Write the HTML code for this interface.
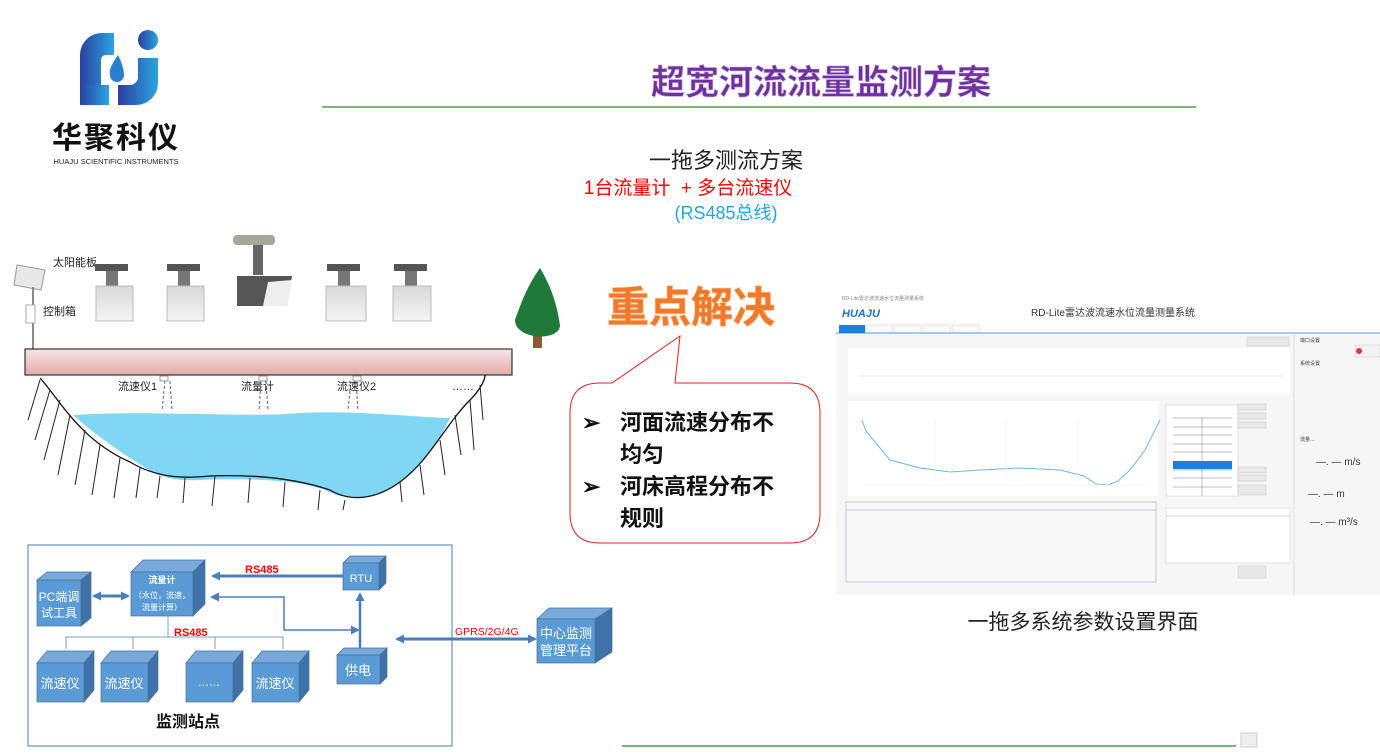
<!DOCTYPE html>
<html><head><meta charset="utf-8">
<style>
html,body{margin:0;padding:0;background:#fff;}
body{width:1380px;height:751px;overflow:hidden;position:relative;font-family:"Liberation Sans","Noto Sans CJK SC",sans-serif;}
svg text{font-family:"Liberation Sans","Noto Sans CJK SC",sans-serif;}
</style></head><body>
<svg width="1380" height="751" viewBox="0 0 1380 751" xmlns="http://www.w3.org/2000/svg">
<defs>
<linearGradient id="lg" x1="0" y1="0" x2="1" y2="0"><stop offset="0" stop-color="#2b3fa0"/><stop offset="1" stop-color="#2aa5e0"/></linearGradient>
<linearGradient id="br" x1="0" y1="0" x2="0" y2="1"><stop offset="0" stop-color="#f6e4e4"/><stop offset="1" stop-color="#e2aaaa"/></linearGradient>
<linearGradient id="dev" x1="0" y1="0" x2="0" y2="1"><stop offset="0" stop-color="#d8d8d8"/><stop offset="1" stop-color="#f4f4f4"/></linearGradient>
<marker id="ah" markerUnits="userSpaceOnUse" markerWidth="9" markerHeight="9" refX="7" refY="4.5" orient="auto-start-reverse"><path d="M0,0 L9,4.5 L0,9 z" fill="#4a7ebb"/></marker>
</defs>

<!-- logo -->
<path d="M80,105 V55 a22,22 0 0 1 22,-22 h12 v22 h-8 a5,5 0 0 0 -5,5 v25 h8 v20 z" fill="url(#lg)"/>
<rect x="80" y="85" width="29" height="20" fill="url(#lg)"/>
<path d="M138,58 h20 v25 a22,22 0 0 1 -22,22 h-18 v-20 h12 a8,8 0 0 0 8,-8 z" fill="url(#lg)"/>
<circle cx="148" cy="40" r="10" fill="url(#lg)"/>
<path d="M118,55 q-10,14 -8,20 a7,7 0 0 0 14,0 q0,-8 -6,-20z" fill="#2a7fd0"/>
<text x="116" y="148" font-size="30" font-weight="bold" text-anchor="middle" fill="#111" letter-spacing="2">华聚科仪</text>
<text x="116" y="164" font-size="7.5" text-anchor="middle" fill="#222">HUAJU SCIENTIFIC INSTRUMENTS</text>

<!-- title -->
<text x="821" y="94" font-size="34" font-weight="bold" text-anchor="middle" fill="#7030a0" stroke="#c9b3e0" stroke-width="0.6">超宽河流流量监测方案</text>
<line x1="322" y1="107" x2="1196" y2="107" stroke="#2e8b2e" stroke-width="1.2"/>
<line x1="622" y1="746" x2="1236" y2="746" stroke="#2e8b2e" stroke-width="1.2"/>
<rect x="1241" y="733" width="16" height="14" fill="#eee" stroke="#ccc"/>

<text x="726" y="168" font-size="22" text-anchor="middle" fill="#222">一拖多测流方案</text>
<text x="688" y="194" font-size="19" text-anchor="middle" fill="#ff0000" xml:space="preserve">1台流量计  + 多台流速仪</text>
<text x="726" y="219" font-size="18" text-anchor="middle" fill="#1fa6e0">(RS485总线)</text>

<!-- river scene -->
<text x="53" y="266" font-size="11" fill="#222">太阳能板</text>
<text x="43" y="315" font-size="11" fill="#222">控制箱</text>
<polygon points="17,265 45,270 41,290 14,285" fill="#e8e8e8" stroke="#999"/>
<line x1="33" y1="287" x2="33" y2="350" stroke="#888" stroke-width="2"/>
<rect x="26" y="305" width="9" height="18" fill="#fff" stroke="#aaa"/>
<g>
 <rect x="95" y="264" width="33" height="7" fill="#555"/><rect x="106" y="271" width="12" height="15" fill="#777"/>
 <rect x="96" y="286" width="37" height="35" fill="url(#dev)" stroke="#bbb"/>
 <rect x="167" y="264" width="33" height="7" fill="#555"/><rect x="178" y="271" width="12" height="15" fill="#777"/>
 <rect x="167" y="286" width="37" height="35" fill="url(#dev)" stroke="#bbb"/>
 <rect x="327" y="264" width="33" height="7" fill="#555"/><rect x="338" y="271" width="12" height="15" fill="#777"/>
 <rect x="326" y="286" width="40" height="35" fill="url(#dev)" stroke="#bbb"/>
 <rect x="394" y="264" width="33" height="7" fill="#555"/><rect x="405" y="271" width="12" height="15" fill="#777"/>
 <rect x="393" y="286" width="38" height="35" fill="url(#dev)" stroke="#bbb"/>
 <rect x="233" y="235" width="42" height="10" rx="4" fill="#a8a89a"/>
 <rect x="253" y="245" width="10" height="30" fill="#666"/>
 <polygon points="237,276 292,276 287,306 237,306" fill="#555"/>
 <polygon points="268,282 292,280 287,306 263,306" fill="#eee"/>
</g>
<rect x="533" y="330" width="9" height="18" fill="#8a5a30"/>
<path d="M540,268 C528,285 522,300 515,320 C515,340 560,342 560,325 C556,300 550,285 540,268z" fill="#1f7a3a"/>
<rect x="25" y="349" width="487" height="26" fill="url(#br)" stroke="#333" stroke-width="1.2"/>
<path d="M73,415 C150,410 250,418 300,413 C360,410 420,418 450,418 C440,440 420,470 400,482 C380,500 345,502 325,490 C300,480 250,478 200,480 C160,482 150,470 130,458 C110,445 90,430 73,415z" fill="#7fd6f5"/>
<path d="M40,378 C60,400 80,440 130,462 C160,480 190,478 210,476 C260,474 300,480 330,490 C350,502 375,500 400,482 C430,460 445,425 470,400 C480,390 485,380 485,375" fill="none" stroke="#111" stroke-width="1.3"/>
<g stroke="#222" stroke-width="1">
<path d="M40,380 l-12,40 M50,390 l-15,50 M60,400 l-16,60 M70,415 l-12,60 M85,430 l-10,55 M100,445 l-8,50 M120,458 l-6,40 M140,468 l-4,30 M160,476 l-3,22 M185,478 l-2,25 M215,476 l-3,30 M250,478 l-2,25 M285,482 l-2,25 M320,490 l-2,20 M345,500 l-2,10 M400,482 l2,20 M420,465 l4,30 M440,440 l5,35 M455,415 l6,40 M470,400 l4,50 M480,385 l3,35"/>
</g>
<g font-size="11" fill="#222"><text x="118" y="390">流速仪1</text><text x="241" y="390">流量计</text><text x="337" y="390">流速仪2</text><text x="452" y="390">……</text></g>
<g stroke="#666" stroke-dasharray="3,2"><path d="M165,381 l-3,30 M170,381 l2,30 M261,381 l-2,30 M266,381 l2,30 M351,381 l-3,30 M356,381 l2,30"/></g>
<g fill="#fff" stroke="#999"><rect x="160" y="376" width="8" height="5"/><rect x="259" y="376" width="8" height="5"/><rect x="353" y="376" width="8" height="5"/></g>

<!-- 重点解决 -->
<text x="691" y="322" font-size="42" font-weight="bold" text-anchor="middle" fill="#f07a2a" stroke="#fbd3b2" stroke-width="1.5" paint-order="stroke">重点解决</text>
<path d="M600,383 L612,383 L680,336 L675,383 L790,383 Q820,383 820,413 L820,513 Q820,543 790,543 L600,543 Q570,543 570,513 L570,413 Q570,383 600,383z" fill="#fff" stroke="#e02020" stroke-width="1"/>
<g font-size="22" fill="#111" font-weight="bold"><text x="582" y="430">➢</text><text x="620" y="430">河面流速分布不</text><text x="620" y="462">均匀</text><text x="582" y="494">➢</text><text x="620" y="494">河床高程分布不</text><text x="620" y="526">规则</text></g>

<!-- software screenshot -->
<rect x="836" y="293" width="544" height="302" fill="#f6f6f6"/>
<rect x="836" y="293" width="544" height="40" fill="#fff"/>
<text x="842" y="300" font-size="5" fill="#888">RD-Lite雷达波流速水位流量测量系统</text>
<text x="842" y="317" font-size="11" font-weight="bold" fill="#1e6fc8" font-style="italic">HUAJU</text>
<text x="1113" y="316" font-size="10" text-anchor="middle" fill="#333">RD-Lite雷达波流速水位流量测量系统</text>
<rect x="839" y="325" width="26" height="8" fill="#1a7fe0"/>
<g fill="#fafafa" stroke="#ccc" stroke-width="0.5"><rect x="866" y="325" width="26" height="8"/><rect x="894" y="325" width="27" height="8"/><rect x="923" y="325" width="27" height="8"/><rect x="952" y="325" width="27" height="8"/></g>
<line x1="836" y1="333" x2="1380" y2="333" stroke="#1a7fe0" stroke-width="0.8"/>
<rect x="848" y="348" width="442" height="46" fill="#fff"/>
<line x1="860" y1="376" x2="1282" y2="376" stroke="#ccc" stroke-width="0.5"/>
<rect x="848" y="401" width="310" height="95" fill="#fff"/>
<polyline points="862,420 866,431 890,460 920,468 950,472 980,470 1020,468 1060,470 1084,476 1096,484 1108,485 1118,481 1130,470 1145,450 1160,420" fill="none" stroke="#6ab8ee" stroke-width="1"/>
<g stroke="#eee" stroke-width="0.5"><line x1="862" y1="485" x2="1150" y2="485"/><line x1="935" y1="420" x2="935" y2="485"/><line x1="1006" y1="420" x2="1006" y2="485"/><line x1="1078" y1="420" x2="1078" y2="485"/></g>
<rect x="1166" y="405" width="72" height="91" fill="#fff" stroke="#ccc" stroke-width="0.5"/>
<g stroke="#555" stroke-width="0.4"><line x1="1173" y1="418" x2="1232" y2="418"/><line x1="1173" y1="427" x2="1232" y2="427"/><line x1="1173" y1="435" x2="1232" y2="435"/><line x1="1173" y1="444" x2="1232" y2="444"/><line x1="1173" y1="452" x2="1232" y2="452"/><line x1="1173" y1="470" x2="1232" y2="470"/><line x1="1173" y1="478" x2="1232" y2="478"/><line x1="1173" y1="487" x2="1232" y2="487"/><line x1="1202" y1="418" x2="1202" y2="496"/></g>
<rect x="1173" y="461" width="59" height="8" fill="#1a7fe0"/>
<g fill="#e8e8e8" stroke="#bbb" stroke-width="0.4"><rect x="1238" y="404" width="28" height="6"/><rect x="1238" y="413" width="28" height="6"/><rect x="1238" y="422" width="28" height="6"/><rect x="1238" y="467" width="28" height="6"/><rect x="1238" y="475" width="28" height="6"/><rect x="1238" y="485" width="28" height="10"/><rect x="1238" y="566" width="28" height="12"/><rect x="1247" y="337" width="42" height="9"/></g>
<rect x="846" y="502" width="310" height="80" fill="#f8f8f8" stroke="#aac" stroke-width="0.6"/>
<line x1="846" y1="510" x2="1156" y2="510" stroke="#9ab" stroke-width="0.6"/>
<rect x="1166" y="508" width="124" height="55" fill="#fff" stroke="#ccc" stroke-width="0.5"/>
<line x1="1166" y1="516" x2="1290" y2="516" stroke="#9ab" stroke-width="0.6"/>
<line x1="1294" y1="335" x2="1294" y2="595" stroke="#ddd"/>
<g font-size="5" fill="#444"><text x="1300" y="342">端口设置</text><text x="1300" y="365">系统设置</text><text x="1300" y="441">流量…</text></g>
<g font-size="10" fill="#333"><text x="1316" y="465">—. — m/s</text><text x="1308" y="497">—. — m</text><text x="1310" y="525">—. — m³/s</text></g>
<rect x="1355" y="345" width="25" height="12" fill="#f2f2f2" stroke="#bbb" stroke-width="0.4"/>
<circle cx="1359" cy="351" r="3" fill="#e33"/>
<text x="1083" y="629" font-size="21" text-anchor="middle" fill="#222">一拖多系统参数设置界面</text>

<!-- block diagram -->
<rect x="28" y="545" width="424" height="201" fill="none" stroke="#6a90c0" stroke-width="1.2"/>
<g stroke="#41719c" stroke-width="0.7">
<polygon points="37,580 47,572 91,572 81,580" fill="#79a9da"/><polygon points="81,580 91,572 91,618 81,626" fill="#3f72a8"/><rect x="37" y="580" width="44" height="46" fill="#5b9bd5"/>
<polygon points="131,572 143,560 205,560 193,572" fill="#79a9da"/><polygon points="193,572 205,560 205,604 193,616" fill="#3f72a8"/><rect x="131" y="572" width="62" height="44" fill="#5b9bd5"/>
<polygon points="343,563 350,556 386,556 379,563" fill="#79a9da"/><polygon points="379,563 386,556 386,583 379,590" fill="#3f72a8"/><rect x="343" y="563" width="36" height="27" fill="#5b9bd5"/>
<polygon points="337,655 344,648 387,648 380,655" fill="#79a9da"/><polygon points="380,655 387,648 387,677 380,684" fill="#3f72a8"/><rect x="337" y="655" width="43" height="29" fill="#5b9bd5"/>
<polygon points="37,663 47,651 94,651 84,663" fill="#79a9da"/><polygon points="84,663 94,651 94,690 84,702" fill="#3f72a8"/><rect x="37" y="663" width="47" height="39" fill="#5b9bd5"/>
<polygon points="101,663 111,651 158,651 148,663" fill="#79a9da"/><polygon points="148,663 158,651 158,690 148,702" fill="#3f72a8"/><rect x="101" y="663" width="47" height="39" fill="#5b9bd5"/>
<polygon points="186,663 196,651 243,651 233,663" fill="#79a9da"/><polygon points="233,663 243,651 243,690 233,702" fill="#3f72a8"/><rect x="186" y="663" width="47" height="39" fill="#5b9bd5"/>
<polygon points="252,663 262,651 309,651 299,663" fill="#79a9da"/><polygon points="299,663 309,651 309,690 299,702" fill="#3f72a8"/><rect x="252" y="663" width="47" height="39" fill="#5b9bd5"/>
<polygon points="537,619 549,608 612,608 600,619" fill="#79a9da"/><polygon points="595,619 612,608 612,652 595,663" fill="#3f72a8"/><rect x="537" y="619" width="58" height="44" fill="#5b9bd5"/>
</g>
<g fill="#fff" text-anchor="middle">
<text x="59" y="601" font-size="12">PC端调</text><text x="59" y="617" font-size="12">试工具</text>
<text x="162" y="583" font-size="9" font-weight="bold">流量计</text><text x="162" y="598" font-size="8">（水位，流速，</text><text x="162" y="610" font-size="8">流量计算）</text>
<text x="361" y="582" font-size="11">RTU</text>
<text x="358" y="675" font-size="13">供电</text>
<text x="60" y="688" font-size="13">流速仪</text><text x="124" y="688" font-size="13">流速仪</text><text x="209" y="686" font-size="11">……</text><text x="275" y="688" font-size="13">流速仪</text>
<text x="566" y="638" font-size="13">中心监测</text><text x="566" y="655" font-size="13">管理平台</text>
</g>
<text x="188" y="727" font-size="16" font-weight="bold" text-anchor="middle" fill="#111">监测站点</text>
<g fill="#ff0000" font-size="11" font-weight="bold"><text x="245" y="573">RS485</text><text x="174" y="636">RS485</text></g>
<text x="455" y="635" font-size="10.5" fill="#ff0000">GPRS/2G/4G</text>
<g stroke="#4a7ebb" fill="none">
<line x1="343" y1="576" x2="213" y2="576" stroke-width="3" marker-end="url(#ah)"/>
<line x1="94" y1="596" x2="128" y2="596" stroke-width="3" marker-end="url(#ah)" marker-start="url(#ah)"/>
<polyline points="212,597 284,597 284,630 358,630" stroke-width="1.5" marker-start="url(#ah)" marker-end="url(#ah)"/>
<line x1="360" y1="648" x2="360" y2="594" stroke-width="2.5" marker-end="url(#ah)"/>
<line x1="397" y1="639" x2="535" y2="639" stroke-width="3" marker-end="url(#ah)" marker-start="url(#ah)"/>
</g>
<g stroke="#7a9cc6" fill="none" stroke-width="1"><line x1="168" y1="616" x2="168" y2="637"/><polyline points="66,649 66,637 283,637 283,649"/><line x1="133" y1="637" x2="133" y2="649"/><line x1="215" y1="637" x2="215" y2="649"/></g>
</svg>
</body></html>
